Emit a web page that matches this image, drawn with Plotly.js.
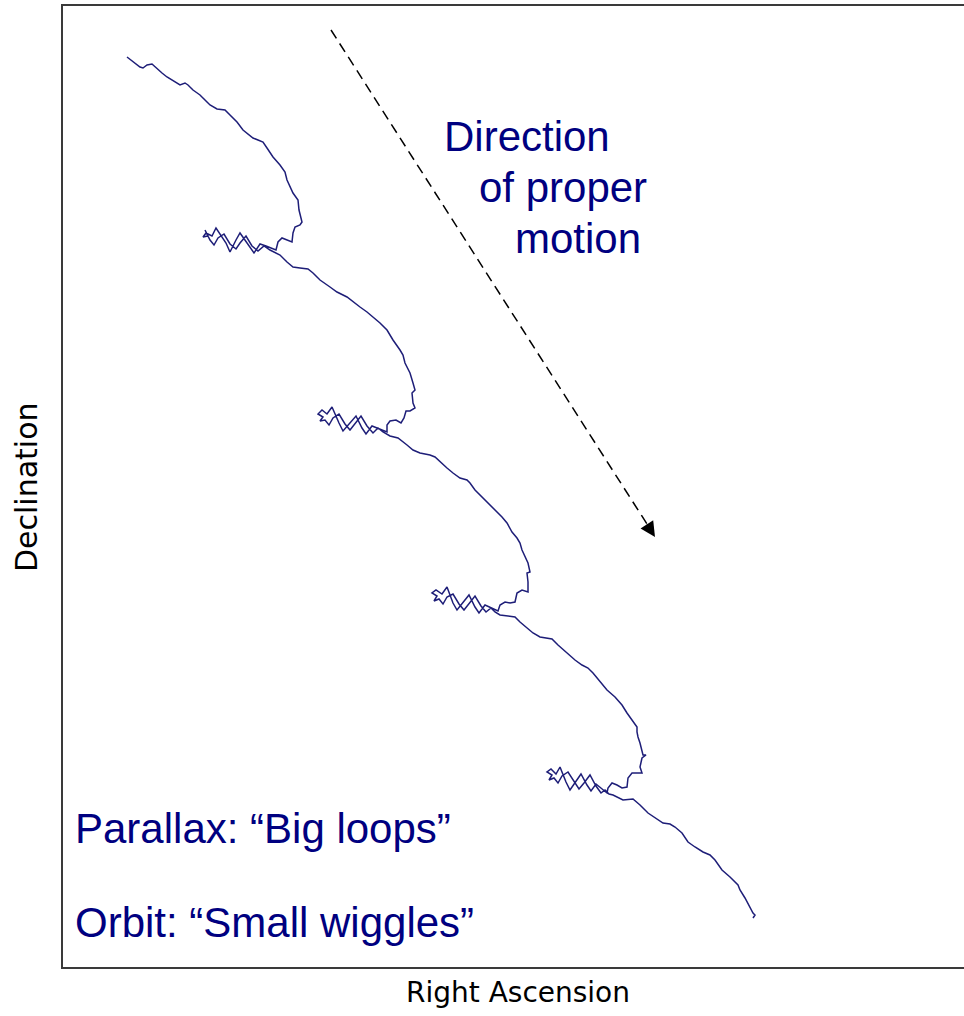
<!DOCTYPE html>
<html>
<head>
<meta charset="utf-8">
<script src="https://cdn.plot.ly/plotly-3.0.1.min.js"></script>
<style>
  body { margin: 0; background: #fff; }
  #plotArea { width: 964px; height: 1016px; }
</style>
</head>
<body>
<div id="plotArea"></div>
<script>
// star track, in [RA, Dec] plot units (Dec axis runs downward)
var arc1 = [[127,57],[133,62],[140,67],[143,68],[147,65],[152,64],[155,67],[162,73],[167,77],[172,80],
    [180,85],[185,83],[188,85],[193,90],[200,95],[205,100],[210,105],[217,109],[225,110],[230,115],
    [237,122],[243,130],[253,138],[258,140],[263,142],[267,148],[273,157],[280,165],[285,172],[287,180],
    [290,187],[293,193],[298,200],[299,210],[302,222],[300,225],[295,227],[293,233],[292,242],[287,240],
    [282,238],[278,242],[277,247],[276,250]];
var wiggle1 = [[266,246],[260,244],[254,253],[249,246],[240,233],[236,240],[230,252],[226,243],[216,228],
    [212,236],[206,233],[203,237],[208,236],[205,230],[210,240],[214,245],[218,238],[224,234],[230,244],
    [236,249],[240,243],[246,236],[252,246],[258,251],[264,246],[270,250],[276,253]];
var arc2 = [[280,255],[287,262],[293,267],[300,268],[308,269],[313,273],[320,280],[330,287],[337,292],
    [347,297],[353,302],[360,307],[367,312],[373,317],[380,323],[387,330],[393,340],[400,350],[403,355],
    [405,363],[410,373],[413,383],[415,390],[412,393],[413,403],[415,408],[410,411],[406,411],[404,418],
    [401,423],[396,420],[390,421],[387,425],[387,432]];
var wiggle2 = [[379,429],[372,426],[366,434],[362,428],[356,416],[350,423],[343,431],[339,423],[332,407],
    [327,414],[322,410],[318,414],[323,417],[320,421],[325,420],[329,425],[333,418],[339,414],[345,424],
    [350,430],[355,424],[361,416],[367,426],[373,433],[378,428],[383,432],[390,436]];
var arc3 = [[398,438],[407,445],[413,450],[420,453],[430,455],[435,457],[440,462],[447,468],[453,473],
    [460,478],[467,480],[470,483],[475,490],[482,497],[488,503],[493,508],[498,512],[502,517],[507,523],
    [512,532],[517,538],[520,543],[522,550],[525,557],[528,563],[530,572],[527,573],[528,582],[528,592],
    [522,590],[517,593],[515,602],[510,603],[505,602],[500,605],[498,611]];
var wiggle3 = [[491,608],[485,605],[479,613],[475,607],[469,595],[463,602],[457,610],[453,603],[447,587],
    [442,594],[436,590],[432,593],[437,596],[434,601],[439,599],[443,604],[447,597],[453,594],[459,604],
    [464,610],[469,604],[475,596],[481,606],[486,612],[491,608],[495,612],[500,615]];
var arc4 = [[507,616],[515,617],[520,622],[527,628],[533,633],[540,637],[552,639],[558,645],[567,653],
    [575,660],[582,665],[588,668],[593,673],[600,682],[607,690],[615,697],[618,700],[622,705],[627,713],
    [632,720],[637,727],[637,732],[638,737],[640,743],[642,750],[643,755],[646,755],[642,758],[640,767],
    [642,773],[637,773],[632,773],[628,778],[627,787],[622,788],[617,785],[612,783],[608,788],[607,793]];
var wiggle4 = [[601,788],[596,784],[591,791],[587,785],[581,774],[576,781],[570,790],[566,782],[560,767],
    [556,774],[551,769],[547,772],[552,775],[549,780],[554,778],[558,783],[562,776],[568,772],[574,782],
    [579,789],[584,783],[590,775],[596,786],[601,793],[605,790],[609,794],[613,795]];
var arc5 = [[623,800],[633,799],[640,805],[648,813],[655,818],[663,823],[670,824],[675,827],[682,833],
    [688,842],[695,847],[703,852],[710,855],[715,860],[722,870],[730,877],[738,885],[740,890],[745,898],
    [750,907],[753,913],[755,915],[753,918]];

var track = [].concat(arc1, wiggle1, arc2, wiggle2, arc3, wiggle3, arc4, wiggle4, arc5);

var trace = {
    x: track.map(function (p) { return p[0]; }),
    y: track.map(function (p) { return p[1]; }),
    type: "scatter",
    mode: "lines",
    line: {color: "#1e1e78", width: 1.5},
    hoverinfo: "skip"
};

var navy = "#000080";
var blueFont = {family: "Arial, Liberation Sans, sans-serif", size: 42, color: navy};
var axisFont = {family: "DejaVu Sans, sans-serif", color: "#000"};

function note(text, x, y) {
    return {text: text, x: x, y: y, xref: "x", yref: "y", xanchor: "left", yanchor: "middle",
        showarrow: false, font: blueFont};
}

var layout = {
    width: 964,
    height: 1016,
    margin: {l: 63, r: 0, t: 6, b: 49},
    paper_bgcolor: "#fff",
    plot_bgcolor: "#fff",
    showlegend: false,
    xaxis: {range: [63, 964], showline: true, mirror: true, linecolor: "#3a3a3a", linewidth: 2,
        showgrid: false, zeroline: false, showticklabels: false, ticks: "", fixedrange: true},
    yaxis: {range: [967, 6], showline: true, mirror: false, linecolor: "#3a3a3a", linewidth: 2,
        showgrid: false, zeroline: false, showticklabels: false, ticks: "", fixedrange: true},
    shapes: [
        {type: "line", xref: "x", yref: "y", x0: 331, y0: 30, x1: 647, y1: 524,
            line: {color: "#000", width: 1.5, dash: "10px,6px"}}
    ],
    annotations: [
        {text: "", x: 655, y: 537, xref: "x", yref: "y", ax: -9, ay: -14, showarrow: true,
            arrowhead: 2, arrowsize: 2, arrowwidth: 1.5, arrowcolor: "#000", standoff: 0},
        note("Direction", 442, 136),
        note("of proper", 477, 187),
        note("motion", 513, 238),
        note("Parallax: \u201cBig loops\u201d", 73, 828),
        note("Orbit: \u201cSmall wiggles\u201d", 73, 922),
        {text: "Declination", xref: "paper", yref: "y", x: -0.041, y: 487, textangle: -90,
            xanchor: "center", yanchor: "middle", showarrow: false,
            font: Object.assign({size: 30}, axisFont)},
        {text: "Right Ascension", xref: "x", yref: "paper", x: 518, y: -0.027,
            xanchor: "center", yanchor: "middle", showarrow: false,
            font: Object.assign({size: 28}, axisFont)}
    ]
};

Plotly.newPlot("plotArea", [trace], layout, {displayModeBar: false, staticPlot: true});
</script>
</body>
</html>
